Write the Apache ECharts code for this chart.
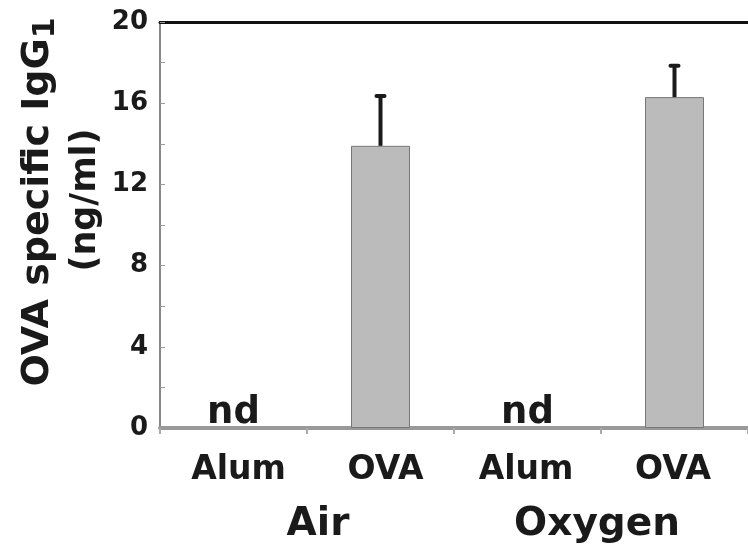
<!DOCTYPE html>
<html>
<head>
<meta charset="utf-8">
<script src="https://cdn.jsdelivr.net/npm/echarts@6/dist/echarts.min.js"></script>
<style>
html,body{margin:0;padding:0;background:#fff;}
#c{width:748px;height:551px;}
</style>
</head>
<body>
<div id="c"></div>
<script>
// Data
var categories = ['Alum', 'OVA', 'Alum', 'OVA'];
var groups = ['Air', 'Oxygen'];
var means = [null, 13.9, null, 16.3];
var errUpper = [null, 16.35, null, 17.85];
var ndLabels = ['nd', '', 'nd', ''];
var yTicks = [0, 4, 8, 12, 16, 20];

var FONT = '"DejaVu Sans", Verdana, sans-serif';
var TXT = '#1a1a1a';

var chart = echarts.init(document.getElementById('c'));

var errData = [];
var ndData = [];
for (var i = 0; i < categories.length; i++) {
  if (means[i] != null) errData.push([i, means[i], errUpper[i]]);
  if (ndLabels[i]) ndData.push([i, 0, ndLabels[i]]);
}

var option = {
  animation: false,
  backgroundColor: '#fff',
  grid: { left: 160, right: -9, top: 22, bottom: 123, containLabel: false },
  xAxis: [
    {
      type: 'category', data: categories, position: 'bottom',
      axisLine: { show: true, onZero: false, lineStyle: { color: '#999', width: 4 } },
      axisTick: { show: true, length: 6, lineStyle: { color: '#aaa', width: 2 } },
      axisLabel: {
        margin: 26,
        formatter: function (v, idx) { return idx < 2 ? '{l|' + v + '}' : '{r|' + v + '}'; },
        rich: {
          l: { fontFamily: FONT, fontWeight: 'bold', fontSize: 33, color: TXT, padding: [0, 0, 0, 10] },
          r: { fontFamily: FONT, fontWeight: 'bold', fontSize: 33, color: TXT, padding: [0, 3, 0, 0] }
        }
      }
    },
    {
      type: 'category', data: groups, position: 'bottom', offset: 0,
      axisLine: { show: false }, axisTick: { show: false },
      axisLabel: {
        margin: 77,
        formatter: function (v, idx) { return idx === 0 ? '{a|' + v + '}' : '{b|' + v + '}'; },
        rich: {
          a: { fontFamily: FONT, fontWeight: 'bold', fontSize: 39, color: TXT, padding: [0, 0, 0, 22] },
          b: { fontFamily: FONT, fontWeight: 'bold', fontSize: 39, color: TXT, padding: [0, 8, 0, 0] }
        }
      }
    },
    {
      type: 'category', data: categories, position: 'top',
      axisLine: { show: true, onZero: false, lineStyle: { color: '#111', width: 3 } },
      axisTick: { show: false }, axisLabel: { show: false }
    }
  ],
  yAxis: {
    type: 'value', min: yTicks[0], max: yTicks[yTicks.length - 1], interval: 4,
    axisLine: { show: true, lineStyle: { color: '#888', width: 2 } },
    axisTick: { show: true, inside: true, length: 5, lineStyle: { color: '#999', width: 1 } },
    minorTick: { show: true, splitNumber: 2, length: 5, lineStyle: { color: '#999', width: 1 } },
    splitLine: { show: false },
    axisLabel: { fontFamily: FONT, fontWeight: 'bold', fontSize: 26, color: TXT, margin: 12 }
  },
  graphic: [
    {
      type: 'text',
      x: 38, y: 202, rotation: Math.PI / 2,
      style: {
        text: '{a|OVA specific IgG}{s|1}',
        rich: {
          a: { fontFamily: FONT, fontWeight: 'bold', fontSize: 38, fill: TXT },
          s: { fontFamily: FONT, fontWeight: 'bold', fontSize: 30, fill: TXT, verticalAlign: 'bottom', padding: [16, 0, 0, 0] }
        },
        align: 'center', verticalAlign: 'middle'
      }
    },
    {
      type: 'text', x: 86, y: 200, rotation: Math.PI / 2,
      style: {
        text: '(ng/ml)', fontFamily: FONT, fontWeight: 'bold', fontSize: 35, fill: TXT,
        align: 'center', verticalAlign: 'middle'
      }
    }
  ],
  series: [
    {
      type: 'bar', data: means, barWidth: 59, xAxisIndex: 0,
      itemStyle: { color: '#bbbbbb', borderColor: '#777', borderWidth: 1 }
    },
    {
      type: 'custom', xAxisIndex: 0, data: errData, z: 5,
      renderItem: function (params, api) {
        var p0 = api.coord([api.value(0), api.value(1)]);
        var p1 = api.coord([api.value(0), api.value(2)]);
        return {
          type: 'group', children: [
            { type: 'line', shape: { x1: p0[0], y1: p0[1], x2: p1[0], y2: p1[1] }, style: { stroke: '#1a1a1a', lineWidth: 4 } },
            { type: 'line', shape: { x1: p1[0] - 4, y1: p1[1], x2: p1[0] + 4, y2: p1[1] }, style: { stroke: '#1a1a1a', lineWidth: 4, lineCap: 'round' } }
          ]
        };
      }
    },
    {
      type: 'custom', xAxisIndex: 0, data: ndData, z: 6,
      renderItem: function (params, api) {
        var p = api.coord([api.value(0), api.value(1)]);
        return {
          type: 'text', x: p[0], y: p[1] + 4,
          style: { text: ndLabels[api.value(0)], fontFamily: FONT, fontWeight: 'bold', fontSize: 37, fill: TXT, align: 'center', verticalAlign: 'bottom' }
        };
      }
    }
  ]
};
chart.setOption(option);
</script>
</body>
</html>
